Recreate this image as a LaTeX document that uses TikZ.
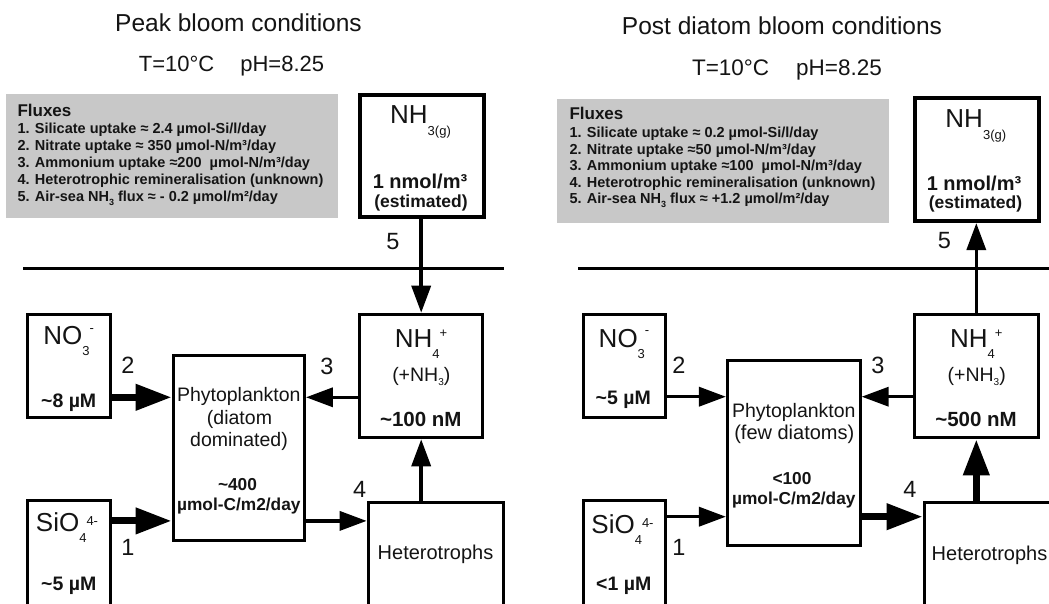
\documentclass[tikz,border=0pt]{standalone}
\usepackage{fontspec}
\setmainfont{Liberation Sans}
\usetikzlibrary{arrows.meta}
\newcommand{\fsz}[1]{\fontsize{#1}{#1}\selectfont}
% main formula, subscript, superscript, superscript raise
\newcommand{\chemf}[4]{{\fsz{26}#1}\raisebox{-11pt}{\fsz{13}#2}\raisebox{#4}{\fsz{13}#3}}
\definecolor{fluxgray}{RGB}{200,200,200}
\definecolor{ink}{RGB}{20,20,20}
\tikzset{
  txt/.style={inner sep=0pt, anchor=base, text=ink},
  ftxt/.style={inner sep=0pt, anchor=base west, text=ink, font=\fsz{14.5}\bfseries},
  box/.style={draw=black, line width=3pt, fill=white, inner sep=0pt},
  gbox/.style={draw=black, line width=4pt, fill=white, inner sep=0pt},
  fluxbox/.style={fill=fluxgray, draw=none, inner sep=0pt},
  arr/.style={line width=3.5pt, -{Triangle[length=27pt,width=19pt]}},
  tarr/.style={line width=7pt, -{Triangle[length=36pt,width=25pt]}},
  sea/.style={line width=3.3pt},
  num/.style={txt, font=\fsz{23.5}},
}
\begin{document}
\begin{tikzpicture}[x=1pt,y=-1pt]
\useasboundingbox (0,0) rectangle (1049,604);
\fill[white] (0,0) rectangle (1049,604);
\clip (0,0) rectangle (1049,604);

% ================= LEFT PANEL =================
\node[txt, font=\fsz{24.5}] (titleL) at (238.5,31.7) {Peak bloom conditions};
\node[txt, font=\fsz{22}] (condL) at (231.5,71.7) {T=10°C\hspace{26pt}pH=8.25};

\node[fluxbox, minimum width=332pt, minimum height=124pt] (fluxL) at (172.2,156.3) {};
\node[ftxt, font=\fsz{17}\bfseries] (fhL) at (17.3,116.5) {Fluxes};
\node[ftxt] (f1L) at (17.3,133.3) {1. Silicate uptake ≈ 2.4 µmol-Si/l/day};
\node[ftxt] (f2L) at (17.3,150.4) {2. Nitrate uptake ≈ 350 µmol-N/m³/day};
\node[ftxt] (f3L) at (17.3,167.5) {3. Ammonium uptake ≈200\ \ µmol-N/m³/day};
\node[ftxt] (f4L) at (17.3,184.6) {4. Heterotrophic remineralisation (unknown)};
\node[ftxt] (f5L) at (17.3,201.7) {5. Air-sea NH\raisebox{-3.5pt}{\fsz{9}3} flux ≈ - 0.2 µmol/m²/day};

\draw[sea] (23.3,268.3) coordinate (seaL1) -- (504,268.3) coordinate (seaL2);

\node[gbox, minimum width=124pt, minimum height=122pt] (nh3L) at (422,156) {};
\node[box, minimum width=122.7pt, minimum height=123.6pt] (nh4L) at (421.2,376) {};
\node[box, minimum width=82.7pt, minimum height=103.6pt] (no3L) at (68.8,366) {};
\node[box, minimum width=131.3pt, minimum height=185pt] (phyL) at (238.8,448.3) {};
\node[box, minimum width=82.7pt, minimum height=127.7pt] (sioL) at (68.8,564.7) {};
\node[box, minimum width=135.3pt, minimum height=126pt] (hetL) at (435.8,565.5) {};

\node[txt] (nh3Lt) at (420.5,124) {{\fsz{26}NH}\raisebox{-12pt}{\fsz{13}3(g)}};
\node[txt, font=\fsz{20}\bfseries] (nh3Lv) at (420,189) {1 nmol/m³};
\node[txt, font=\fsz{17.5}\bfseries] (nh3Le) at (421,207.5) {(estimated)};

\node[txt] (nh4Lt) at (421,347) {\chemf{NH}{4}{+}{9.5pt}};
\node[txt, font=\fsz{19.5}] (nh4Ls) at (421.3,381) {(+NH\raisebox{-4pt}{\fsz{10}3})};
\node[txt, font=\fsz{20.5}\bfseries] (nh4Lv) at (420.8,426) {\textasciitilde100 nM};

\node[txt] (no3Lt) at (68.7,344.5) {\chemf{NO}{3}{-}{12.5pt}};
\node[txt, font=\fsz{19.5}\bfseries] (no3Lv) at (68.7,407.3) {\textasciitilde8 µM};

\node[txt] (sioLt) at (67,531.5) {\chemf{SiO}{4}{4-}{6pt}};
\node[txt, font=\fsz{19.5}\bfseries] (sioLv) at (68.8,590.7) {\textasciitilde5 µM};

\node[txt, font=\fsz{19.5}] (phyL1) at (238.8,401.7) {Phytoplankton};
\node[txt, font=\fsz{19.5}] (phyL2) at (239.5,424) {(diatom};
\node[txt, font=\fsz{19.5}] (phyL3) at (239,446.7) {dominated)};
\node[txt, font=\fsz{17.3}\bfseries] (phyL4) at (237.5,490.7) {\textasciitilde400};
\node[txt, font=\fsz{17.3}\bfseries] (phyL5) at (238.8,510) {µmol-C/m2/day};

\node[txt, font=\fsz{20}] (hetLt) at (435.5,559.3) {Heterotrophs};

\coordinate (yAL) at (0,397.3);
\coordinate (yBL) at (0,520.9);
\draw[tarr] (no3L.east |- yAL) -- (phyL.west |- yAL);
\draw[tarr] (sioL.east |- yBL) -- (phyL.west |- yBL);
\draw[arr] (nh4L.west |- yAL) -- (phyL.east |- yAL);
\draw[arr] (phyL.east |- yBL) -- (hetL.west |- yBL);
\draw[arr] (nh3L.south -| nh4L) -- (nh4L.north);
\draw[arr] (hetL.north -| nh4L) -- (nh4L.south);

\node[num] (n5L) at (393,249.3) {5};
\node[num] (n2L) at (127.8,373.3) {2};
\node[num] (n3L) at (327,374) {3};
\node[num] (n4L) at (359.7,497.7) {4};
\node[num] (n1L) at (128,555.7) {1};

% ================= RIGHT PANEL =================
\node[txt, font=\fsz{24.5}] (titleR) at (782,35) {Post diatom bloom conditions};
\node[txt, font=\fsz{22.5}] (condR) at (787,76) {T=10°C\hspace{27pt}pH=8.25};

\node[fluxbox, minimum width=332pt, minimum height=123.4pt] (fluxR) at (723.3,161) {};
\node[ftxt, font=\fsz{17}\bfseries] (fhR) at (569.3,120) {Fluxes};
\node[ftxt] (f1R) at (569.3,137.5) {1. Silicate uptake ≈ 0.2 µmol-Si/l/day};
\node[ftxt] (f2R) at (569.3,154.1) {2. Nitrate uptake ≈50 µmol-N/m³/day};
\node[ftxt] (f3R) at (569.3,170.7) {3. Ammonium uptake ≈100\ \ µmol-N/m³/day};
\node[ftxt] (f4R) at (569.3,187.3) {4. Heterotrophic remineralisation (unknown)};
\node[ftxt] (f5R) at (569.3,203.9) {5. Air-sea NH\raisebox{-3.5pt}{\fsz{9}3} flux ≈ +1.2 µmol/m²/day};

\draw[sea] (578.3,268.3) coordinate (seaR1) -- (1055,268.3) coordinate (seaR2);

\node[gbox, minimum width=123.7pt, minimum height=122.7pt] (nh3R) at (977.2,159.7) {};
\node[box, minimum width=124.3pt, minimum height=123.6pt] (nh4R) at (976.3,376) {};
\node[box, minimum width=82pt, minimum height=103.3pt] (no3R) at (624.2,365.8) {};
\node[box, minimum width=132.7pt, minimum height=185.3pt] (phyR) at (793.8,453.2) {};
\node[box, minimum width=82pt, minimum height=127.7pt] (sioR) at (624.2,564.7) {};
\node[box, minimum width=135.3pt, minimum height=126pt] (hetR) at (991.8,565.5) {};

\node[txt] (nh3Rt) at (975.8,128) {{\fsz{26}NH}\raisebox{-12pt}{\fsz{13}3(g)}};
\node[txt, font=\fsz{20}\bfseries] (nh3Rv) at (974,190.5) {1 nmol/m³};
\node[txt, font=\fsz{17.5}\bfseries] (nh3Re) at (975.5,208.5) {(estimated)};

\node[txt] (nh4Rt) at (976.3,347.3) {\chemf{NH}{4}{+}{9.5pt}};
\node[txt, font=\fsz{19.5}] (nh4Rs) at (976.7,381) {(+NH\raisebox{-4pt}{\fsz{10}3})};
\node[txt, font=\fsz{20.5}\bfseries] (nh4Rv) at (976,426) {\textasciitilde500 nM};

\node[txt] (no3Rt) at (624,347.3) {\chemf{NO}{3}{-}{12.5pt}};
\node[txt, font=\fsz{19.5}\bfseries] (no3Rv) at (623.3,404) {\textasciitilde5 µM};

\node[txt] (sioRt) at (622.5,533) {\chemf{SiO}{4}{4-}{6pt}};
\node[txt, font=\fsz{19.5}\bfseries] (sioRv) at (623.7,590.7) {<1 µM};

\node[txt, font=\fsz{19.5}] (phyR1) at (793.8,417.3) {Phytoplankton};
\node[txt, font=\fsz{20}] (phyR2) at (794.3,439.3) {(few diatoms)};
\node[txt, font=\fsz{17.3}\bfseries] (phyR4) at (792,484) {<100};
\node[txt, font=\fsz{17.3}\bfseries] (phyR5) at (793.8,504) {µmol-C/m2/day};

\node[txt, font=\fsz{20}] (hetRt) at (989.5,560) {Heterotrophs};

\coordinate (yAR) at (0,396.7);
\coordinate (yBR) at (0,516.7);
\draw[arr] (no3R.east |- yAR) -- (phyR.west |- yAR);
\draw[arr] (sioR.east |- yBR) -- (phyR.west |- yBR);
\draw[arr] (nh4R.west |- yAR) -- (phyR.east |- yAR);
\draw[tarr] (phyR.east |- yBR) -- (hetR.west |- yBR);
\draw[arr] (nh4R.north) -- (nh3R.south -| nh4R);
\draw[tarr] (hetR.north -| nh4R) -- (nh4R.south);

\node[num] (n5R) at (944.5,248.3) {5};
\node[num] (n2R) at (678.8,373.3) {2};
\node[num] (n3R) at (877.8,373.3) {3};
\node[num] (n4R) at (910,497.7) {4};
\node[num] (n1R) at (679,555.7) {1};
\end{tikzpicture}
\end{document}
